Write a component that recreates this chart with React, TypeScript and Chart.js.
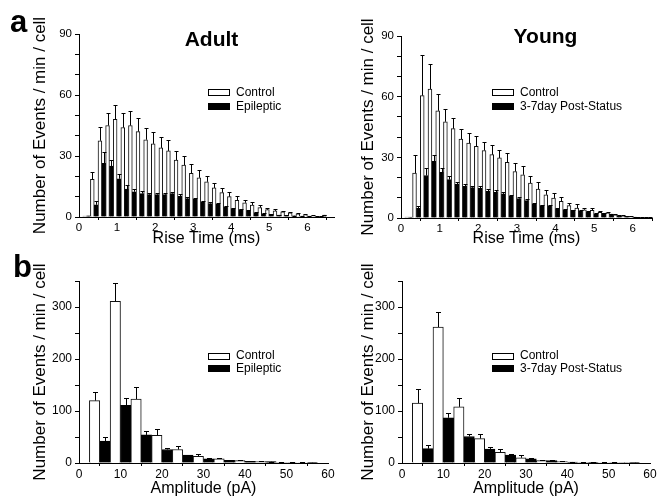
import React, { useEffect, useRef } from 'react';
import { Chart, registerables } from 'chart.js';

Chart.register(...registerables);

const FONT = "'Liberation Sans', Arial, Helvetica, sans-serif";

// ---------- Rise time histograms (bin centers, ms) ----------
const riseBins = [0.2, 0.4, 0.6, 0.8, 1.0, 1.2, 1.4, 1.6, 1.8, 2.0, 2.2, 2.4, 2.6, 2.8, 3.0, 3.2,
  3.4, 3.6, 3.8, 4.0, 4.2, 4.4, 4.6, 4.8, 5.0, 5.2, 5.4, 5.6, 5.8, 6.0, 6.2, 6.4];

const adultRiseControl = [0.5, 18.5, 37.5, 45, 48, 44, 45, 42, 38, 36, 34, 32.5, 28, 25.5, 21.5, 19.3,
  17.3, 14.3, 12, 10, 8.2, 7, 5.9, 4.6, 3.6, 3, 2.5, 2, 1.5, 1.1, 0.6, 0.3];
const adultRiseControlErr = [0, 3.5, 7, 6, 7, 7, 7, 6.5, 6, 6, 5.5, 5.5, 4.5, 4.5, 4.5, 3.7,
  2.7, 2.5, 2.4, 2.4, 2, 1.6, 1.5, 1.4, 1, 0.7, 0.6, 0.5, 0.4, 0.3, 0.2, 0.1];
const adultRiseEpileptic = [0.6, 6, 26.4, 25, 18.8, 13.7, 12.4, 11.5, 11, 11, 11, 11.5, 10.2, 9, 8.7, 7.4,
  6.6, 6.3, 5, 4.1, 3.6, 3, 2.1, 1.6, 1.3, 1, 0.8, 0.6, 0.5, 0.4, 0.3, 1.0];
const adultRiseEpilepticErr = [0, 2, 5.5, 3, 2.2, 1.9, 1.5, 1.2, 1, 1, 1, 1, 1, 0.9, 0.8, 0.7,
  0.6, 0.6, 0.5, 0.5, 0.4, 0.4, 0.3, 0.3, 0.2, 0.2, 0.2, 0.1, 0.1, 0.1, 0.1, 0.1];

const youngRiseControl = [0.5, 22.2, 60.5, 63.8, 53, 47.6, 44.2, 39, 37, 35.4, 33.4, 31.3, 29.7, 27.5, 23, 21.4,
  17.3, 14.3, 11.5, 9.9, 8.2, 6.1, 4.9, 4.1, 3.8, 2.8, 2.5, 1.6, 1, 0.8, 0.3, 0.2];
const youngRiseControlErr = [0, 8.8, 20.2, 12.5, 8.3, 6.4, 5.2, 5, 5, 5, 4.2, 4.9, 4.1, 4.5, 4, 4.1,
  3.3, 3.3, 2.5, 2.4, 2, 1.3, 2, 0.8, 1.1, 0.6, 0.5, 0.4, 0.3, 0.2, 0.1, 0.1];
const youngRisePost = [0.5, 4.8, 21, 28, 22.6, 19, 16.8, 15.6, 15, 14.7, 13.2, 12.7, 11.9, 10.7, 9.6, 8.6,
  6.9, 6.1, 6, 4.4, 4.1, 3.8, 3.6, 3, 2.1, 2.3, 2, 1.2, 0.8, 0.5, 0.2, 0.2];
const youngRisePostErr = [0, 1, 3.7, 3.3, 2.1, 1.6, 1.2, 1, 1, 1, 0.9, 0.9, 0.8, 0.8, 0.7, 0.6,
  0.6, 0.5, 0.5, 0.4, 0.4, 0.3, 0.3, 0.3, 0.2, 0.2, 0.2, 0.1, 0.1, 0.1, 0.1, 0.1];

// ---------- Amplitude histograms (bin centers, pA) ----------
const ampBins = [5, 10, 15, 20, 25, 30, 35, 40, 45, 50, 55];

const adultAmpControl = [120, 311, 123, 53, 26, 13, 8, 4.5, 2.5, 1.5, 1];
const adultAmpControlErr = [17, 35, 23, 13, 6, 5, 2, 1.5, 0.5, 0.3, 0.2];
const adultAmpEpileptic = [42, 111, 54, 26, 15, 8, 5, 3, 2.5, 1, 0.5];
const adultAmpEpilepticErr = [8, 14, 7, 3, 1, 1, 1, 1, 0.3, 0.2, 0.1];

const youngAmpControl = [115, 261.5, 108, 47, 20.5, 10, 4.5, 2.5, 1.5, 1, 0.5];
const youngAmpControlErr = [28, 28.5, 17, 9, 5.5, 5, 1.5, 0.5, 0.3, 0.2, 0.1];
const youngAmpPost = [27.5, 87, 51, 27, 15, 8, 4.5, 2, 1.5, 1, 0.5];
const youngAmpPostErr = [6.5, 10, 5, 4, 2, 1, 1.5, 0.3, 0.2, 0.1, 0.1];

const adultLabels = ['Control', 'Epileptic'];
const youngLabels = ['Control', '3-7day Post-Status'];
const yAxisTitle = 'Number of Events / min / cell';

type PanelCfg = {
  id: string;
  left: number; top: number; w: number; h: number;
  bins: number[];
  series: number[][];
  errs: number[][];
  labels: string[];
  xMax: number; xStep: number; xTitle: string;
  yMax: number; yStep: number; yLabelEvery: number;
  yAxisW: number; xAxisH: number; padTop: number; padRight: number; yTitlePad: number;
  tickFont: number;
  title?: string; titlePos?: [number, number];
  letter?: string; letterPos?: [number, number];
  legendX: number; legendRows: [number, number];
  cap: number;
};

const panels: PanelCfg[] = [
  {
    id: 'a-adult', left: 0, top: 0, w: 340, h: 250,
    bins: riseBins, series: [adultRiseControl, adultRiseEpileptic], errs: [adultRiseControlErr, adultRiseEpilepticErr],
    labels: adultLabels, xMax: 6.7, xStep: 1, xTitle: 'Rise Time (ms)',
    yMax: 90, yStep: 10, yLabelEvery: 30,
    yAxisW: 79, xAxisH: 33, padTop: 34, padRight: 6, yTitlePad: 30, tickFont: 11.5,
    title: 'Adult', titlePos: [211.5, 46], letter: 'a', letterPos: [10, 32],
    legendX: 208, legendRows: [92.5, 106.5], cap: 4,
  },
  {
    id: 'a-young', left: 330, top: 0, w: 327, h: 250,
    bins: riseBins, series: [youngRiseControl, youngRisePost], errs: [youngRiseControlErr, youngRisePostErr],
    labels: youngLabels, xMax: 6.5, xStep: 1, xTitle: 'Rise Time (ms)',
    yMax: 90, yStep: 10, yLabelEvery: 30,
    yAxisW: 71, xAxisH: 32, padTop: 36, padRight: 5, yTitlePad: 28, tickFont: 11.5,
    title: 'Young', titlePos: [215.5, 43],
    legendX: 162, legendRows: [92.5, 106.5], cap: 4,
  },
  {
    id: 'b-adult', left: 0, top: 250, w: 340, h: 250,
    bins: ampBins, series: [adultAmpControl, adultAmpEpileptic], errs: [adultAmpControlErr, adultAmpEpilepticErr],
    labels: adultLabels, xMax: 60, xStep: 10, xTitle: 'Amplitude (pA)',
    yMax: 350, yStep: 50, yLabelEvery: 100,
    yAxisW: 79, xAxisH: 37, padTop: 31, padRight: 12, yTitlePad: 30, tickFont: 12,
    letter: 'b', letterPos: [13, 27],
    legendX: 208, legendRows: [106, 118.5], cap: 5,
  },
  {
    id: 'b-young', left: 330, top: 250, w: 327, h: 250,
    bins: ampBins, series: [youngAmpControl, youngAmpPost], errs: [youngAmpControlErr, youngAmpPostErr],
    labels: youngLabels, xMax: 60, xStep: 10, xTitle: 'Amplitude (pA)',
    yMax: 350, yStep: 50, yLabelEvery: 100,
    yAxisW: 72, xAxisH: 37, padTop: 31, padRight: 7, yTitlePad: 28, tickFont: 12,
    legendX: 162, legendRows: [106, 118.5], cap: 5,
  },
];

const annotPlugin = {
  id: 'annot',
  afterDatasetsDraw(chart: any, _args: any, opts: any) {
    const ctx = chart.ctx;
    const yScale = chart.scales.y;
    ctx.save();
    ctx.strokeStyle = '#000';
    ctx.lineWidth = 1;
    chart.data.datasets.forEach((ds: any, di: number) => {
      const meta = chart.getDatasetMeta(di);
      const errs: number[] = ds.errors || [];
      meta.data.forEach((el: any, i: number) => {
        const e = errs[i];
        if (!e) return;
        const v = ds.data[i].y;
        const topPx = yScale.getPixelForValue(v + e);
        const x = Math.round(el.x) + 0.5;
        const yTop = Math.round(topPx) + 0.5;
        ctx.beginPath();
        ctx.moveTo(x, el.y);
        ctx.lineTo(x, yTop);
        ctx.moveTo(x - opts.cap / 2, yTop);
        ctx.lineTo(x + opts.cap / 2, yTop);
        ctx.stroke();
      });
    });
    ctx.restore();
  },
  afterDraw(chart: any, _args: any, opts: any) {
    const ctx = chart.ctx;
    ctx.save();
    ctx.font = `12px ${FONT}`;
    ctx.textBaseline = 'middle';
    ctx.textAlign = 'left';
    chart.data.datasets.forEach((ds: any, k: number) => {
      const yy = opts.legendRows[k];
      const lx = opts.legendX;
      if (k === 0) {
        ctx.fillStyle = '#fff';
        ctx.fillRect(lx, Math.round(yy - 3.5), 22, 7);
        ctx.strokeStyle = '#000';
        ctx.lineWidth = 1;
        ctx.strokeRect(lx + 0.5, Math.round(yy - 3.5) + 0.5, 21, 6);
      } else {
        ctx.fillStyle = '#000';
        ctx.fillRect(lx, Math.round(yy - 3.5), 22, 7);
      }
      ctx.fillStyle = '#000';
      ctx.fillText(ds.label, lx + 28, yy);
    });
    if (opts.title) {
      ctx.font = `bold 21px ${FONT}`;
      ctx.textAlign = 'center';
      ctx.textBaseline = 'alphabetic';
      ctx.fillText(opts.title, opts.titlePos[0], opts.titlePos[1]);
    }
    if (opts.letter) {
      ctx.font = `bold 31px ${FONT}`;
      ctx.textAlign = 'left';
      ctx.textBaseline = 'alphabetic';
      ctx.fillText(opts.letter, opts.letterPos[0], opts.letterPos[1]);
    }
    ctx.restore();
  },
};

function Panel({ cfg }: { cfg: PanelCfg }) {
  const ref = useRef<HTMLCanvasElement | null>(null);
  useEffect(() => {
    if (!ref.current) return;
    const styles = [
      { backgroundColor: '#fff', borderColor: '#111' },
      { backgroundColor: '#000', borderColor: '#000' },
    ];
    const chart = new Chart(ref.current, {
      type: 'bar',
      data: {
        datasets: cfg.series.map((vals, k) => ({
          label: cfg.labels[k],
          data: cfg.bins.map((b, i) => ({ x: b, y: vals[i] })),
          errors: cfg.errs[k],
          backgroundColor: styles[k].backgroundColor,
          borderColor: styles[k].borderColor,
          borderWidth: 1,
          barPercentage: 1,
          categoryPercentage: 1,
        })) as any,
      },
      plugins: [annotPlugin as any],
      options: {
        responsive: false,
        animation: false,
        events: [],
        layout: { padding: { top: cfg.padTop, right: cfg.padRight, left: 0, bottom: 0 } },
        plugins: {
          legend: { display: false },
          tooltip: { enabled: false },
          annot: {
            cap: cfg.cap, legendX: cfg.legendX, legendRows: cfg.legendRows,
            title: cfg.title, titlePos: cfg.titlePos, letter: cfg.letter, letterPos: cfg.letterPos,
          },
        } as any,
        scales: {
          x: {
            type: 'linear',
            min: 0,
            max: cfg.xMax,
            offset: false,
            grid: { display: true, drawOnChartArea: false, drawTicks: true, tickLength: 3, color: '#000' },
            border: { display: true, color: '#000', width: 1 },
            ticks: {
              stepSize: cfg.xStep,
              includeBounds: false,
              maxRotation: 0,
              autoSkip: false,
              padding: 1,
              color: '#000',
              font: { size: cfg.tickFont, family: FONT },
            },
            title: {
              display: true,
              text: cfg.xTitle,
              color: '#000',
              font: { size: 16, family: FONT },
              padding: { top: 0, bottom: 2 },
            },
            afterFit: (s: any) => {
              s.height = cfg.xAxisH;
              s.paddingLeft = 0; s.paddingRight = 0; s.paddingTop = 0; s.paddingBottom = 0;
            },
          },
          y: {
            type: 'linear',
            min: 0,
            max: cfg.yMax,
            grid: { display: true, drawOnChartArea: false, drawTicks: true, tickLength: 4, color: '#000' },
            border: { display: true, color: '#000', width: 1 },
            ticks: {
              stepSize: cfg.yStep,
              autoSkip: false,
              padding: 3,
              color: '#000',
              font: { size: cfg.tickFont, family: FONT },
              callback: (v: any) => (Number(v) % cfg.yLabelEvery === 0 ? String(v) : ''),
            },
            title: {
              display: true,
              text: yAxisTitle,
              color: '#000',
              font: { size: 17, family: FONT },
              padding: { top: cfg.yTitlePad, bottom: 0 },
            },
            afterFit: (s: any) => {
              s.width = cfg.yAxisW;
              s.paddingLeft = 0; s.paddingRight = 0; s.paddingTop = 0; s.paddingBottom = 0;
            },
          },
        } as any,
      },
    });
    return () => chart.destroy();
  }, [cfg]);
  return (
    <canvas
      ref={ref}
      width={cfg.w}
      height={cfg.h}
      style={{ position: 'absolute', left: cfg.left, top: cfg.top, width: cfg.w, height: cfg.h }}
    />
  );
}

export default function App() {
  return (
    <div style={{ position: 'fixed', left: 0, top: 0, width: 657, height: 500, background: '#fff', overflow: 'hidden' }}>
      {panels.map((p) => (
        <Panel key={p.id} cfg={p} />
      ))}
    </div>
  );
}
